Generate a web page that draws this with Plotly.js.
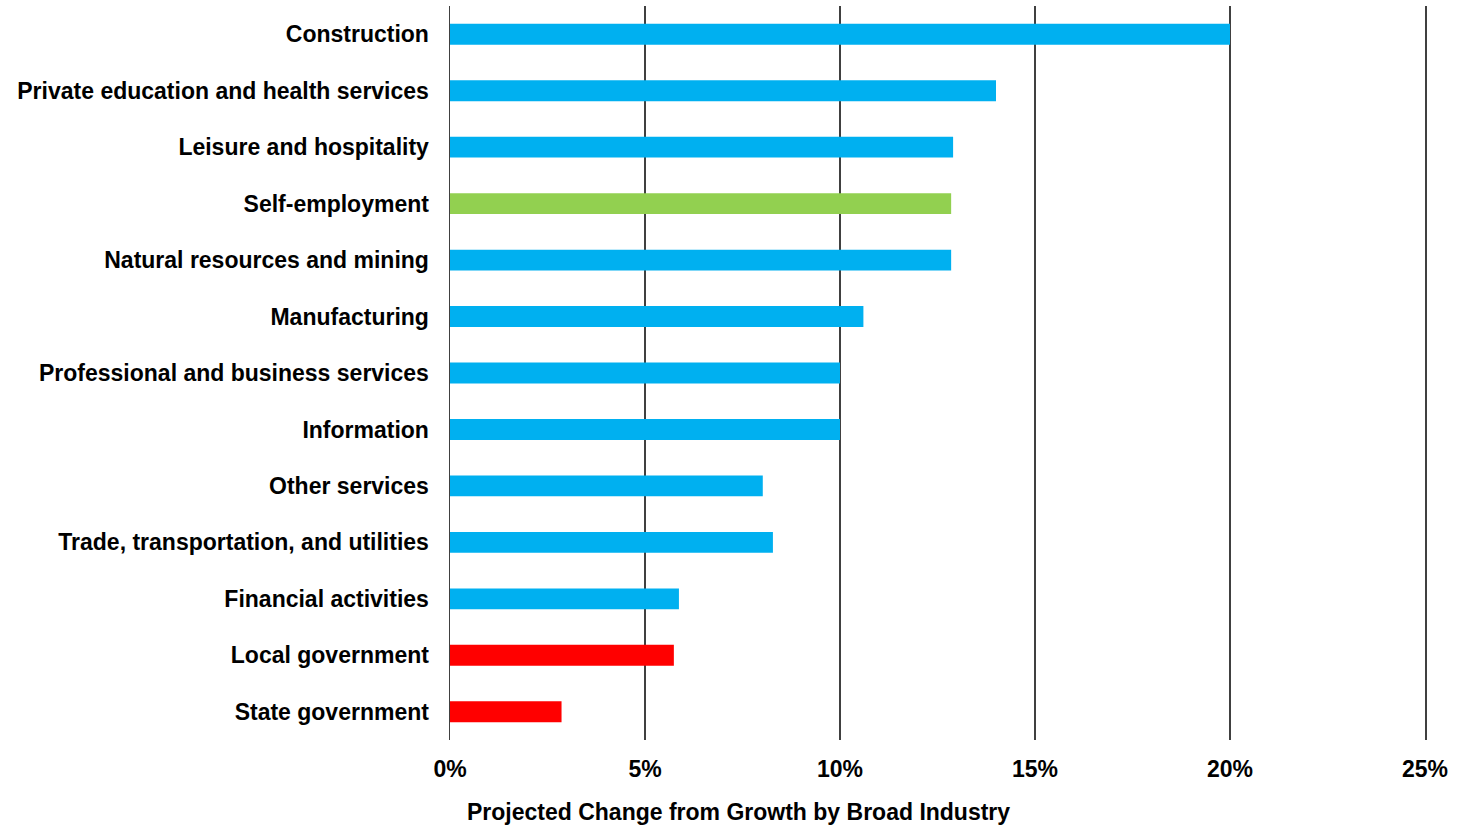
<!DOCTYPE html>
<html>
<head>
<meta charset="utf-8">
<script src="https://cdn.plot.ly/plotly-3.0.1.min.js"></script>
<style>
html,body{margin:0;padding:0;background:#fff;}
#chart{width:1463px;height:827px;}
</style>
</head>
<body>
<div id="chart"></div>
<script>
const categories = [
  "Construction",
  "Private education and health services",
  "Leisure and hospitality",
  "Self-employment",
  "Natural resources and mining",
  "Manufacturing",
  "Professional and business services",
  "Information",
  "Other services",
  "Trade, transportation, and utilities",
  "Financial activities",
  "Local government",
  "State government"
];
const values = [0.200, 0.140, 0.129, 0.1285, 0.1285, 0.106, 0.100, 0.100, 0.0802, 0.0828, 0.0587, 0.0574, 0.0286];
const groups = ["private","private","private","self","private","private","private","private","private","private","private","government","government"];
const groupColors = {private: "#00B0F0", self: "#92D050", government: "#FF0000"};
const xTickVals = [0, 0.05, 0.10, 0.15, 0.20, 0.25];
const xTickText = ["0%", "5%", "10%", "15%", "20%", "25%"];
const xTitle = "Projected Change from Growth by Broad Industry";

const trace = {
  type: "bar",
  orientation: "h",
  y: categories,
  x: values,
  marker: {color: groups.map(g => groupColors[g])},
  hoverinfo: "x+y"
};

const font = "Liberation Sans, Arial, sans-serif";
const layout = {
  width: 1463,
  height: 827,
  margin: {l: 450, r: 38, t: 6, b: 87},
  paper_bgcolor: "#ffffff",
  plot_bgcolor: "#ffffff",
  bargap: 0.63,
  showlegend: false,
  font: {family: font, color: "#000000"},
  xaxis: {
    range: [0, 0.25],
    tickvals: xTickVals,
    ticktext: xTickText,
    showgrid: true,
    gridcolor: "#404040",
    gridwidth: 1.5,
    zeroline: false,
    showline: false,
    ticks: "",
    ticklabelstandoff: 13,
    tickfont: {family: font, size: 23, color: "#000000", weight: "bold"},
    fixedrange: true
  },
  yaxis: {
    autorange: "reversed",
    showgrid: false,
    zeroline: false,
    showline: true,
    mirror: true,
    linecolor: "#404040",
    linewidth: 1.5,
    ticks: "",
    ticklabelstandoff: 15,
    tickfont: {family: font, size: 23, color: "#000000", weight: "bold"},
    fixedrange: true
  },
  annotations: [{
    text: xTitle,
    xref: "paper", yref: "paper",
    x: 0.2954, y: -0.098,
    xanchor: "center", yanchor: "middle",
    showarrow: false,
    font: {family: font, size: 23, color: "#000000", weight: "bold"}
  }]
};

Plotly.newPlot("chart", [trace], layout, {displayModeBar: false, staticPlot: true});
</script>
</body>
</html>
